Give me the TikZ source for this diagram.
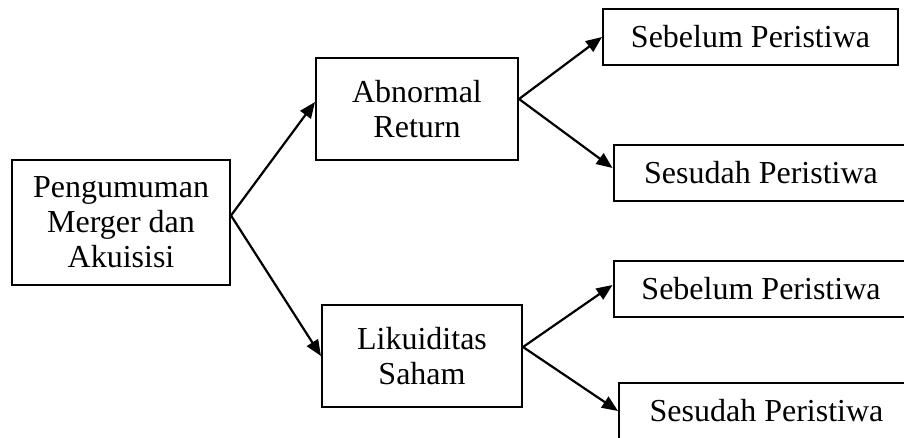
\documentclass[tikz,border=0pt]{standalone}
\usepackage{fontspec}
\setmainfont{Liberation Serif}
\usetikzlibrary{arrows.meta,positioning}
\tikzset{
  box/.style   = {draw, line width=2pt, rectangle, align=center, inner sep=0pt},
  wide/.style  = {box, minimum width=295pt, minimum height=56pt},
  sig/.style   = {-{Triangle[length=16pt,width=13pt]}, line width=2.2pt},
}
\begin{document}
\begin{tikzpicture}[x=1pt,y=-1pt,font=\fontsize{32}{35}\selectfont]
\useasboundingbox (0,0) rectangle (904,437);
% event
\node[box, minimum width=218pt, minimum height=125pt] (pma) at (121,222.5) {Pengumuman\\Merger dan\\Akuisisi};
% variables
\node[box, minimum width=202pt, minimum height=102pt] (abn) at (417,109) {Abnormal\\Return};
\node[box, minimum width=200pt, minimum height=102pt] (lik) at (422,356) {Likuiditas\\Saham};
% periods
\node[wide] (abnpre)  at (750.5,37)  {Sebelum Peristiwa};
\node[wide] (abnpost) at (761,173)   {Sesudah Peristiwa};
\node[wide] (likpre)  at (761,289)   {Sebelum Peristiwa};
\node[wide] (likpost) at (766.5,411) {Sesudah Peristiwa};
% arrows
\draw[sig] ([yshift=7pt]pma.east) -- ([yshift=7pt]abn.west);
\draw[sig] ([yshift=7pt]pma.east) -- (lik.west);
\draw[sig] ([yshift=10pt]abn.east) -- (abnpre.west);
\draw[sig] ([yshift=10pt]abn.east) -- ([yshift=5pt]abnpost.west);
\draw[sig] ([yshift=9pt]lik.east) -- ([yshift=4pt]likpre.west);
\draw[sig] ([yshift=9pt]lik.east) -- (likpost.west);
\end{tikzpicture}
\end{document}
